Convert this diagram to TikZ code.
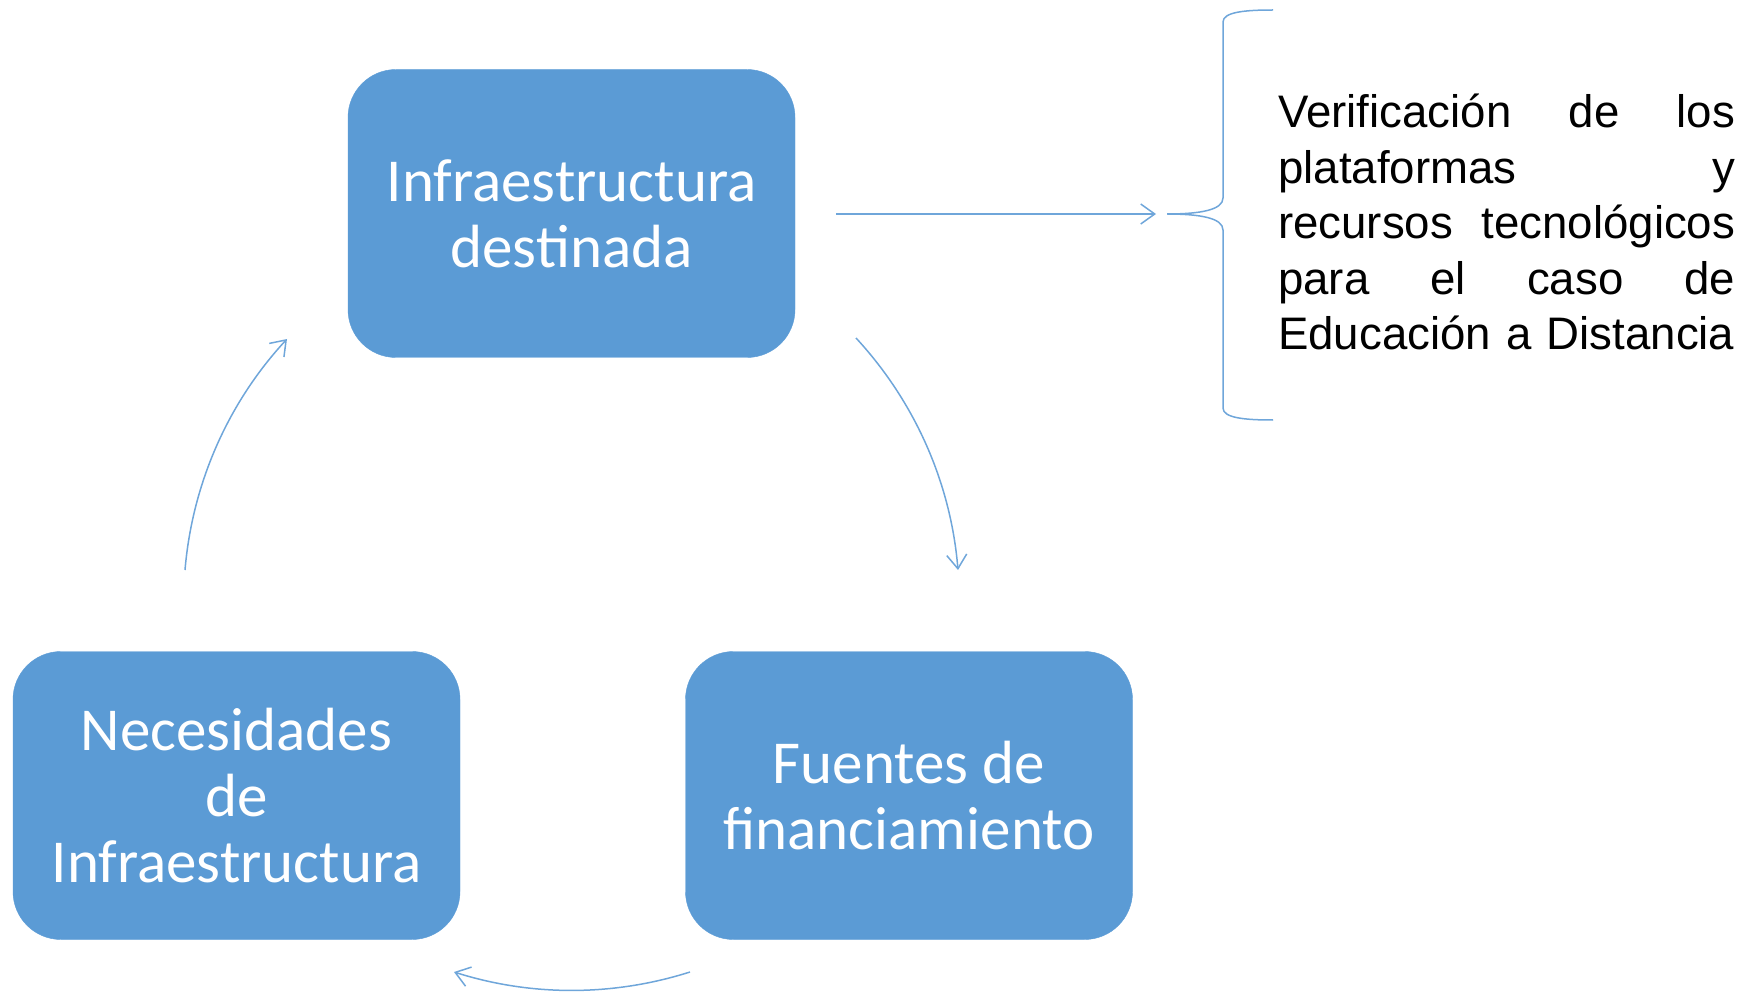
\documentclass[tikz,border=0pt]{standalone}
\usepackage{fontspec}
\usetikzlibrary{arrows.meta}
\newfontfamily\carlito{Carlito}
\newfontfamily\arialfont{Liberation Sans}
\definecolor{boxblue}{HTML}{5B9BD5}
\definecolor{lineblue}{HTML}{6FA6DA}
\newcommand{\fullline}[1]{\leavevmode\hbox to 457pt{#1}}
\tikzset{
  cyclebox/.style={rectangle, rounded corners=48pt, fill=boxblue, draw=boxblue,
    minimum width=447pt, minimum height=288pt, inner sep=0pt, text=white,
    align=center, font=\carlito\fontsize{61}{66}\selectfont},
  conn/.style={draw=lineblue, line width=1.5pt,
    -{Straight Barb[length=14pt,width=20pt]}},
  bracestyle/.style={draw=lineblue, line width=1.5pt},
}
\begin{document}
\begin{tikzpicture}[x=1pt,y=-1pt]
\useasboundingbox (0,0) rectangle (1754,992);
\node[cyclebox] (top) at (571.5,213.5) {Infraestructura\\destinada};
\node[cyclebox] (left) at (236.5,795.5) {Necesidades\\de\\Infraestructura};
\node[cyclebox] (right) at (909,795.5) {Fuentes de\\financiamiento};

\coordinate (l1) at (185,570);
\coordinate (l2) at (287,339);
\coordinate (r1) at (856,338);
\coordinate (r2) at (958,570);
\coordinate (b1) at (690,972);
\coordinate (b2) at (454,972);
\draw[conn] (l1) to[bend left=19, looseness=0.88] (l2);
\draw[conn] (r1) to[bend left=19, looseness=0.88] (r2);
\draw[conn] (b1) to[bend left=17.6, looseness=0.88] (b2);

\coordinate (h1) at (836,214);
\coordinate (btip) at (1167,214);
\draw[conn] (h1) -- ([xshift=-11pt]btip);

\draw[bracestyle] (1273,10) .. controls (1245,10) and (1223,12) .. (1223,22)
  -- (1223,198) .. controls (1223,210) and (1200,214) .. (btip)
  .. controls (1200,214) and (1223,218) .. (1223,230)
  -- (1223,408) .. controls (1223,418) and (1245,420) .. (1273,420);

\node[anchor=base west, inner sep=0pt, text width=470pt, align=left,
  font=\arialfont\fontsize{45.6}{55.5}\selectfont] (txt) at (1278,128)
  {\fullline{Verificación\hfill de\hfill los}\\
   \fullline{plataformas\hfill y}\\
   \fullline{recursos\hfill tecnológicos}\\
   \fullline{para\hfill el\hfill caso\hfill de}\\
   \mbox{Educación a Distancia}};
\end{tikzpicture}
\end{document}
